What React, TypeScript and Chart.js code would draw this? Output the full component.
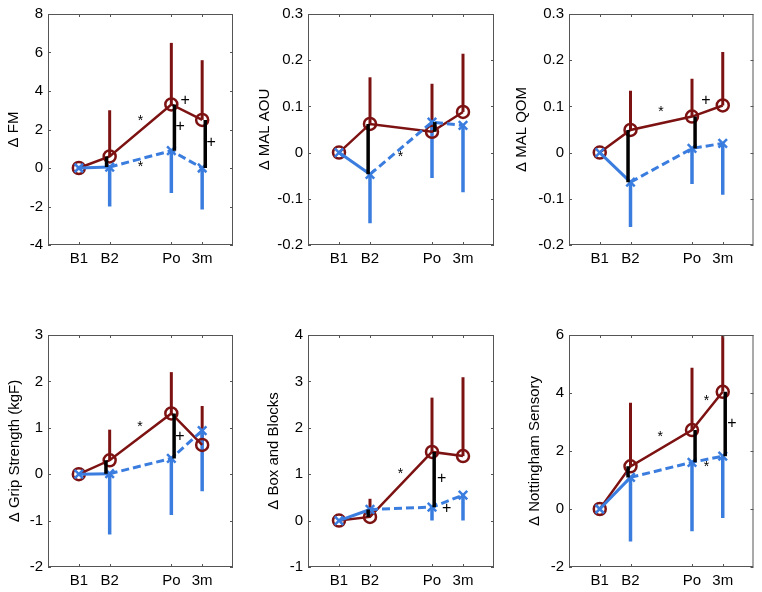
import React, { useEffect, useRef } from 'react';
import { Chart, registerables } from 'chart.js';
Chart.register(...registerables);

// ---- shared categories ----
const categories = ['B1', 'B2', 'Po', '3m'];
const categoryX = [1, 2, 4, 5];

// ---- Δ FM ----
const fmTicks = [-4, -2, 0, 2, 4, 6, 8];
const fmRed = [0, 0.6, 3.3, 2.5];
const fmRedHigh = [null, 3.0, 6.5, 5.6];
const fmBlue = [0, 0.05, 0.9, 0.0];
const fmBlueLow = [null, -2.0, -1.3, -2.15];
const fmDiffIdx = [1, 2, 3];
const fmDiffX = [1.9, 4.1, 5.1];
const fmMarks: [string, number, number][] = [['*', 3.0, 2.6], ['*', 3.0, 0.2], ['+', 4.45, 3.48], ['+', 4.29, 2.14], ['+', 5.29, 1.3]];

// ---- Δ MAL AOU ----
const aouTicks = [-0.2, -0.1, 0, 0.1, 0.2, 0.3];
const aouRed = [0, 0.062, 0.045, 0.088];
const aouRedHigh = [null, 0.163, 0.149, 0.214];
const aouBlue = [0, -0.047, 0.066, 0.059];
const aouBlueLow = [null, -0.153, -0.055, -0.086];
const aouDiffIdx = [1, 2];
const aouDiffX = [1.94, 4.09];
const aouMarks: [string, number, number][] = [['*', 2.98, -0.004]];

// ---- Δ MAL QOM ----
const qomTicks = [-0.2, -0.1, 0, 0.1, 0.2, 0.3];
const qomRed = [0, 0.049, 0.078, 0.102];
const qomRedHigh = [null, 0.134, 0.16, 0.218];
const qomBlue = [0, -0.064, 0.009, 0.02];
const qomBlueLow = [null, -0.161, -0.068, -0.091];
const qomDiffIdx = [1, 2];
const qomDiffX = [1.92, 4.1];
const qomMarks: [string, number, number][] = [['*', 2.99, 0.093], ['+', 4.45, 0.112]];

// ---- Δ Grip Strength ----
const gripTicks = [-2, -1, 0, 1, 2, 3];
const gripRed = [0, 0.3, 1.31, 0.63];
const gripRedHigh = [null, 0.96, 2.2, 1.47];
const gripBlue = [0, 0.01, 0.34, 0.94];
const gripBlueLow = [null, -1.3, -0.88, -0.37];
const gripDiffIdx = [1, 2];
const gripDiffX = [1.88, 4.09];
const gripMarks: [string, number, number][] = [['*', 2.98, 1.07], ['+', 4.28, 0.82]];

// ---- Δ Box and Blocks ----
const boxTicks = [-1, 0, 1, 2, 3, 4];
const boxRed = [0, 0.08, 1.48, 1.39];
const boxRedHigh = [null, 0.47, 2.65, 3.09];
const boxBlue = [0, 0.24, 0.29, 0.55];
const boxBlueLow = [null, 0.13, 0.0, 0.0];
const boxDiffIdx = [1, 2];
const boxDiffX = [1.94, 4.07];
const boxMarks: [string, number, number][] = [['*', 2.98, 1.06], ['+', 4.31, 0.9], ['+', 4.47, 0.25]];

// ---- Δ Nottingham Sensory ----
const nsTicks = [-2, 0, 2, 4, 6];
const nsRed = [0, 1.47, 2.72, 4.04];
const nsRedHigh = [null, 3.66, 4.87, 6.0];
const nsBlue = [0, 1.09, 1.61, 1.82];
const nsBlueLow = [null, -1.12, -0.77, -0.31];
const nsDiffIdx = [1, 2, 3];
const nsDiffX = [1.92, 4.1, 5.08];
const nsMarks: [string, number, number][] = [['*', 2.97, 2.57], ['*', 4.47, 3.83], ['*', 4.47, 1.56], ['+', 5.3, 2.93]];

type Panel = {
  title: string;
  ticks: number[];
  red: number[];
  redHigh: (number | null)[];
  blue: number[];
  blueLow: (number | null)[];
  diffIdx: number[];
  diffX: number[];
  marks: [string, number, number][];
};

const panels: Panel[] = [
  { title: 'Δ FM', ticks: fmTicks, red: fmRed, redHigh: fmRedHigh, blue: fmBlue, blueLow: fmBlueLow, diffIdx: fmDiffIdx, diffX: fmDiffX, marks: fmMarks },
  { title: 'Δ MAL AOU', ticks: aouTicks, red: aouRed, redHigh: aouRedHigh, blue: aouBlue, blueLow: aouBlueLow, diffIdx: aouDiffIdx, diffX: aouDiffX, marks: aouMarks },
  { title: 'Δ MAL QOM', ticks: qomTicks, red: qomRed, redHigh: qomRedHigh, blue: qomBlue, blueLow: qomBlueLow, diffIdx: qomDiffIdx, diffX: qomDiffX, marks: qomMarks },
  { title: 'Δ Grip Strength (kgF)', ticks: gripTicks, red: gripRed, redHigh: gripRedHigh, blue: gripBlue, blueLow: gripBlueLow, diffIdx: gripDiffIdx, diffX: gripDiffX, marks: gripMarks },
  { title: 'Δ Box and Blocks', ticks: boxTicks, red: boxRed, redHigh: boxRedHigh, blue: boxBlue, blueLow: boxBlueLow, diffIdx: boxDiffIdx, diffX: boxDiffX, marks: boxMarks },
  { title: 'Δ Nottingham Sensory', ticks: nsTicks, red: nsRed, redHigh: nsRedHigh, blue: nsBlue, blueLow: nsBlueLow, diffIdx: nsDiffIdx, diffX: nsDiffX, marks: nsMarks },
];

// ---- layout (pixels) ----
const CW = 254;
const CH = 296;
const colLeft = [0, 254, 508];
const rowTop = [0, 296];
const colAxisW = [48, 54, 61];
const colPadRight = [21, 14, 7];
const rowPadTop = [13, 39];
const rowAxisH = [51, 25];
const titlePad = [5, 2, 5, 6, 11, 18];

const RED = '#7d1212';
const BLUE = '#3a7ddf';
const FAMILY = '"Liberation Sans", Arial, Helvetica, sans-serif';
const FONT = { family: FAMILY, size: 15 };

const fmt = (v: number) => String(Math.round(v * 100) / 100);

function buildConfig(p: Panel, index: number): any {
  const col = index % 3;
  const row = Math.floor(index / 3);
  const datasets: any[] = [];

  p.red.forEach((v, i) => {
    const hi = p.redHigh[i];
    if (hi !== null) {
      datasets.push({
        data: [{ x: categoryX[i], y: v }, { x: categoryX[i], y: hi }],
        borderColor: RED, borderWidth: 3, pointRadius: 0, order: 4, borderCapStyle: 'butt',
      });
    }
  });
  p.blue.forEach((v, i) => {
    const lo = p.blueLow[i];
    if (lo !== null) {
      datasets.push({
        data: [{ x: categoryX[i], y: v }, { x: categoryX[i], y: lo }],
        borderColor: BLUE, borderWidth: 3.5, pointRadius: 0, order: 3, borderCapStyle: 'butt',
      });
    }
  });
  datasets.push({
    data: p.red.map((v, i) => ({ x: categoryX[i], y: v })),
    borderColor: RED, borderWidth: 2.5, pointStyle: 'circle', pointRadius: 6,
    pointBorderWidth: 2.5, pointBorderColor: RED, pointBackgroundColor: 'rgba(0,0,0,0)', order: 2,
  });
  datasets.push({
    data: p.blue.map((v, i) => ({ x: categoryX[i], y: v })),
    borderColor: BLUE, borderWidth: 3, pointStyle: 'crossRot', pointRadius: 6,
    pointBorderWidth: 2.5, pointBorderColor: BLUE, pointBackgroundColor: BLUE, order: 1,
    borderDash: [],
    segment: { borderDash: (ctx: any) => (ctx.p0DataIndex >= 1 ? [8, 4] : undefined) },
  });
  p.diffIdx.forEach((idx, k) => {
    datasets.push({
      data: [{ x: p.diffX[k], y: p.red[idx] }, { x: p.diffX[k], y: p.blue[idx] }],
      borderColor: '#000', borderWidth: 3.5, pointRadius: 0, order: 0, borderCapStyle: 'butt',
    });
  });

  const framePlugin = {
    id: 'frame' + index,
    afterDatasetsDraw(chart: any) {
      const { ctx, chartArea: a, scales } = chart;
      ctx.save();
      ctx.strokeStyle = '#555';
      ctx.lineWidth = 1;
      ctx.strokeRect(a.left + 0.5, a.top + 0.5, a.right - a.left - 1, a.bottom - a.top - 1);
      ctx.beginPath();
      const tl = 3;
      p.ticks.forEach((v) => {
        const y = Math.round(scales.y.getPixelForValue(v)) + 0.5;
        ctx.moveTo(a.left, y); ctx.lineTo(a.left + tl, y);
        ctx.moveTo(a.right, y); ctx.lineTo(a.right - tl, y);
      });
      categoryX.forEach((v) => {
        const x = Math.round(scales.x.getPixelForValue(v)) + 0.5;
        ctx.moveTo(x, a.bottom); ctx.lineTo(x, a.bottom - tl);
        ctx.moveTo(x, a.top); ctx.lineTo(x, a.top + tl);
      });
      ctx.stroke();
      ctx.fillStyle = '#000';
      ctx.textAlign = 'center';
      ctx.textBaseline = 'middle';
      p.marks.forEach(([t, x, y]) => {
        const px = scales.x.getPixelForValue(x);
        const py = scales.y.getPixelForValue(y);
        ctx.font = (t === '*' ? '14px ' : '16px ') + FAMILY;
        ctx.fillText(t, px, py + (t === '*' ? 3 : 0));
      });
      ctx.restore();
    },
  };

  return {
    type: 'line',
    data: { datasets },
    plugins: [framePlugin],
    options: {
      animation: false,
      responsive: false,
      events: [],
      layout: { padding: { top: rowPadTop[row], right: colPadRight[col], bottom: 0, left: 0 } },
      plugins: { legend: { display: false }, tooltip: { enabled: false } },
      scales: {
        x: {
          type: 'linear', min: 0, max: 6,
          grid: { display: false, drawTicks: false, tickLength: 0 },
          border: { display: false },
          afterBuildTicks: (s: any) => { s.ticks = categoryX.map((v) => ({ value: v })); },
          ticks: {
            callback: (v: any) => { const i = categoryX.indexOf(Number(v)); return i >= 0 ? categories[i] : ''; },
            font: FONT, color: '#000', padding: 5, maxRotation: 0, autoSkip: false,
          },
          afterFit: (s: any) => { s.height = rowAxisH[row]; },
        },
        y: {
          type: 'linear', min: p.ticks[0], max: p.ticks[p.ticks.length - 1],
          grid: { display: false, drawTicks: false, tickLength: 0 },
          border: { display: false },
          afterBuildTicks: (s: any) => { s.ticks = p.ticks.map((v) => ({ value: v })); },
          ticks: { callback: (v: any) => fmt(Number(v)), font: FONT, color: '#000', padding: 5, autoSkip: false },
          title: { display: true, text: p.title, font: FONT, color: '#000', padding: { top: titlePad[index], bottom: 0 } },
          afterFit: (s: any) => { s.width = colAxisW[col]; },
        },
      },
    },
  };
}

function PanelChart({ panel, index }: { panel: Panel; index: number }) {
  const ref = useRef<HTMLCanvasElement>(null);
  useEffect(() => {
    const chart = new Chart(ref.current as HTMLCanvasElement, buildConfig(panel, index));
    return () => chart.destroy();
  }, [panel, index]);
  const col = index % 3;
  const row = Math.floor(index / 3);
  return (
    <canvas
      ref={ref}
      width={CW}
      height={CH}
      style={{ position: 'absolute', left: colLeft[col], top: rowTop[row], width: CW, height: CH }}
    />
  );
}

export default function App() {
  return (
    <div style={{ position: 'absolute', left: 0, top: 0, width: 762, height: 592, background: '#fff', overflow: 'hidden' }}>
      {panels.map((p, i) => (
        <PanelChart key={i} panel={p} index={i} />
      ))}
    </div>
  );
}
